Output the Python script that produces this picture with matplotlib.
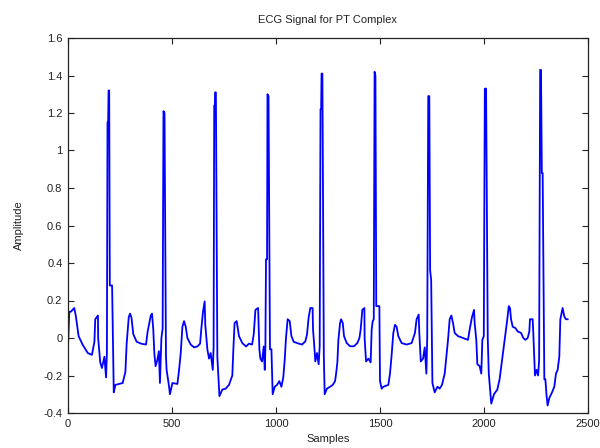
import matplotlib
matplotlib.use("Agg")
import matplotlib.pyplot as plt
from matplotlib.ticker import FixedLocator, FixedFormatter

plt.rcParams['font.family'] = ['Liberation Sans', 'DejaVu Sans']

samples = [0, 6, 14, 30, 38, 51, 70, 95, 115, 127, 131, 144, 145, 155, 163, 175, 183, 187,
           190, 193, 195, 198, 201, 212, 220, 228, 263, 276, 282, 292, 298, 305, 314, 330,
           351, 375, 383, 391, 398, 404, 410, 415, 421, 429, 437, 442, 449, 455, 459, 464,
           471, 474, 486, 490, 502, 526, 534, 542, 550, 558, 566, 574, 590, 606, 622, 635,
           641, 649, 657, 660, 670, 678, 686, 696, 700, 703, 706, 707, 711, 718, 728, 742,
           758, 774, 790, 795, 801, 811, 822, 838, 856, 861, 870, 885, 893, 901, 914, 917,
           920, 925, 933, 941, 946, 949, 952, 957, 959, 964, 971, 978, 984, 994, 1005, 1016,
           1026, 1035, 1042, 1048, 1056, 1066, 1074, 1085, 1101, 1125, 1141, 1149, 1157,
           1165, 1176, 1178, 1183, 1189, 1197, 1205, 1210, 1214, 1217, 1219, 1223, 1230,
           1234, 1245, 1260, 1273, 1284, 1289, 1295, 1300, 1308, 1313, 1321, 1327, 1340,
           1356, 1375, 1391, 1401, 1407, 1415, 1425, 1426, 1433, 1444, 1455, 1460, 1465,
           1470, 1474, 1478, 1482, 1497, 1500, 1508, 1516, 1540, 1548, 1556, 1564, 1572,
           1580, 1588, 1604, 1628, 1652, 1668, 1676, 1686, 1689, 1696, 1707, 1715, 1723,
           1727, 1732, 1737, 1741, 1746, 1752, 1763, 1776, 1787, 1798, 1811, 1819, 1827,
           1835, 1843, 1851, 1859, 1875, 1899, 1923, 1931, 1942, 1952, 1955, 1963, 1968,
           1979, 1987, 1992, 1999, 2004, 2010, 2018, 2023, 2035, 2048, 2064, 2075, 2083,
           2099, 2112, 2119, 2125, 2130, 2138, 2151, 2162, 2178, 2189, 2199, 2210, 2218,
           2221, 2234, 2237, 2242, 2245, 2253, 2260, 2265, 2270, 2274, 2278, 2282, 2290,
           2295, 2301, 2306, 2314, 2327, 2338, 2346, 2354, 2362, 2367, 2378, 2386, 2394, 2402]

amplitude = [-0.05, 0.14, 0.14, 0.16, 0.115, 0.01, -0.035, -0.08, -0.09, -0.02, 0.10, 0.12, 0.0,
             -0.13, -0.16, -0.10, -0.21, -0.08,
             1.15, 1.15, 1.32, 1.32, 0.28, 0.28, -0.29, -0.25, -0.24, -0.18, -0.03, 0.11,
             0.13, 0.11, 0.02, -0.02,
             -0.03, -0.035, 0.035, 0.08, 0.12, 0.13, 0.045, -0.08, -0.15, -0.12, -0.07,
             -0.24, 0.0, 0.05, 1.21, 1.20,
             -0.10, -0.17, -0.26, -0.30, -0.24, -0.245, -0.17, -0.08, 0.06, 0.09, 0.06, 0.0,
             -0.035, -0.05, -0.045, -0.03,
             0.05, 0.14, 0.195, 0.07, -0.06, -0.11, -0.08, -0.17, -0.05, 1.24, 1.24, 1.31,
             1.31, -0.10, -0.31, -0.275,
             -0.27, -0.25, -0.20, -0.06, 0.08, 0.09, 0.01, -0.027, -0.045, -0.04, -0.03,
             -0.035, 0.02, 0.15, 0.16, 0.045,
             -0.06, -0.11, -0.125, -0.045, -0.17, -0.045, 0.42, 0.42, 1.30, 1.29, -0.06,
             -0.06, -0.30, -0.26, -0.25, -0.23,
             -0.26, -0.21, -0.115, 0.0, 0.10, 0.09, 0.01, -0.02, -0.027, -0.035, -0.018,
             0.018, 0.11,
             0.16, 0.16, 0.045, -0.027, -0.125, -0.08, -0.14, -0.045, 1.22, 1.22, 1.41,
             1.41, -0.10,
             -0.30, -0.27, -0.26, -0.25, -0.23, -0.19, -0.13, -0.01, 0.08, 0.10, 0.08, 0.01,
             -0.027,
             -0.044, -0.044, -0.027, 0.0, 0.045, 0.15, 0.16, 0.0, -0.125, -0.11, -0.13,
             0.045, 0.09,
             0.10, 1.42, 1.40, 0.17, 0.17, -0.23, -0.27, -0.26, -0.25, -0.19, -0.09, 0.027,
             0.07,
             0.06, 0.01, -0.027, -0.035, -0.027, 0.027, 0.10, 0.125, 0.027, -0.125, -0.11,
             -0.05, -0.19,
             0.0, 1.29, 1.29, 0.36, 0.31, -0.24, -0.29, -0.26, -0.27, -0.25, -0.19, -0.10,
             -0.01,
             0.10, 0.12, 0.08, 0.027, 0.01, 0.0, -0.01, 0.045, 0.11, 0.15, 0.08, -0.01, -0.14,
             -0.15, -0.19, -0.01, 0.01, 1.33, 1.33, 0.0, -0.19, -0.35, -0.30, -0.275, -0.22,
             -0.15,
             -0.01, 0.10, 0.17, 0.16, 0.10, 0.06, 0.053, 0.035, 0.027, 0.0, -0.01, 0.0, 0.035,
             0.10, 0.10, 0.027, -0.11, -0.20, -0.17, -0.20, -0.12, 1.43, 1.43, 0.88, 0.88,
             -0.22,
             -0.22, -0.31, -0.36, -0.32, -0.29, -0.26, -0.19, -0.17, -0.10, 0.10, 0.16, 0.115,
             0.10, 0.10]

x_ticks = [0, 500, 1000, 1500, 2000, 2500]
x_tick_labels = ['0', '500', '1000', '1500', '2000', '2500']
y_ticks = [-0.4, -0.2, 0, 0.2, 0.4, 0.6, 0.8, 1.0, 1.2, 1.4, 1.6]
y_tick_labels = ['-0.4', '-0.2', '0', '0.2', '0.4', '0.6', '0.8', '1', '1.2', '1.4', '1.6']

fig = plt.figure(figsize=(6, 4.48), dpi=100)
ax = fig.add_axes([68/600, 35/448, 520/600, 375/448])
ax.plot(samples, amplitude, color=(0, 0, 1), lw=1.3)
ax.set_xlim(0, 2500)
ax.set_ylim(-0.4, 1.6)
ax.xaxis.set_major_locator(FixedLocator(x_ticks))
ax.xaxis.set_major_formatter(FixedFormatter(x_tick_labels))
ax.yaxis.set_major_locator(FixedLocator(y_ticks))
ax.yaxis.set_major_formatter(FixedFormatter(y_tick_labels))
ax.tick_params(direction='in', top=True, right=True, length=4, width=0.8,
               labelsize=8, pad=4, colors='#222222')
for s in ax.spines.values():
    s.set_linewidth(0.9)
    s.set_color('#222222')
ax.set_title('ECG Signal for PT Complex', fontsize=8, pad=11, color='#222222')
ax.set_xlabel('Samples', fontsize=8, labelpad=4, color='#222222')
ax.set_ylabel('Amplitude', fontsize=8, labelpad=14, color='#222222')
fig.savefig('out.png', dpi=100)
